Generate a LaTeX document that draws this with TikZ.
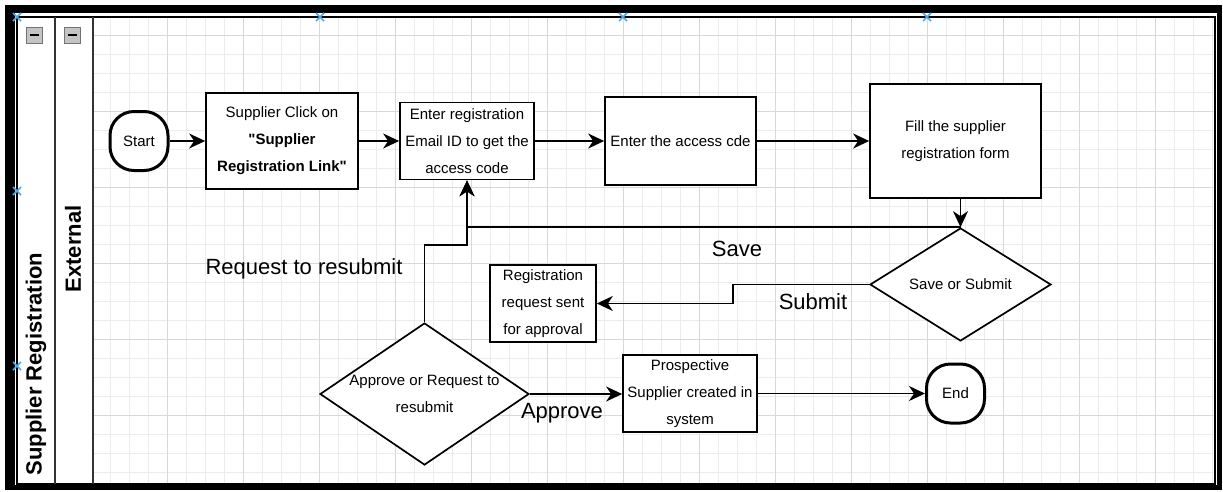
\documentclass[tikz,border=0pt]{standalone}
\usepackage{fontspec}
\setmainfont{Liberation Sans}
\usetikzlibrary{arrows.meta,shapes.geometric}

\definecolor{gridminor}{RGB}{236,236,236}
\definecolor{gridmajor}{RGB}{216,216,216}
\definecolor{handle}{RGB}{70,170,240}
\definecolor{btnfill}{RGB}{196,196,196}

\begin{document}
\begin{tikzpicture}[x=1pt, y=-1pt,
    every node/.style={font=\fontsize{15}{27}\selectfont, align=center},
    box/.style={draw, fill=white, line width=1.7pt, inner sep=0pt},
    term/.style={draw, fill=white, line width=3pt, rounded corners=24pt, minimum width=58pt, minimum height=59pt, inner sep=0pt},
    choice/.style={draw, fill=white, diamond, line width=1.7pt, inner sep=0pt},
    flow/.style={line width=1.7pt, -{Stealth[length=16pt, width=15pt, inset=5pt]}},
    lbl/.style={font=\fontsize{22}{26}\selectfont},
    lanetitle/.style={font=\bfseries\fontsize{22}{26}\selectfont, rotate=90},
    btn/.style={draw=black!55, fill=btnfill, minimum size=16pt, inner sep=0pt, line width=0.8pt}]
    \useasboundingbox (0,0) rectangle (1223,491);

    % grid
    \foreach \gx in {110,129,...,1212} \draw[gridminor, line width=0.8pt] (\gx,17) -- (\gx,484);
    \foreach \gy in {35,54,...,472} \draw[gridminor, line width=0.8pt] (93,\gy) -- (1215,\gy);
    \foreach \gx in {167,243,...,1155} \draw[gridmajor, line width=0.9pt] (\gx,17) -- (\gx,484);
    \foreach \gy in {35,111,...,415} \draw[gridmajor, line width=0.9pt] (93,\gy) -- (1215,\gy);

    % frame and pool
    \fill (5,5) rectangle (1222,13);
    \fill (5,5) rectangle (15,490);
    \fill (1217,5) rectangle (1222,490);
    \fill (5,485) rectangle (1222,490);
    \draw[line width=1.2pt] (17,17) rectangle (1215,484);
    \draw[black!80, line width=1.6pt] (55,17) -- (55,484);
    \draw[black!80, line width=1.6pt] (93,17) -- (93,484);

    \node[lanetitle] (pool) at (36,364) {Supplier Registration};
    \node[lanetitle] (lane) at (73,249) {External};
    \node[btn] (btnpool) at (34.5,35.3) {};
    \node[btn] (btnlane) at (72.5,35.3) {};
    \draw[line width=2.2pt] ([xshift=3.5pt]btnpool.west) -- ([xshift=-3.5pt]btnpool.east);
    \draw[line width=2.2pt] ([xshift=3.5pt]btnlane.west) -- ([xshift=-3.5pt]btnlane.east);
    \foreach \hx/\hy in {17/17,320/17,623/17,927/17,17/191,17/366}
        \draw[handle, line width=1.6pt] (\hx-4,\hy-4) -- (\hx+4,\hy+4) (\hx-4,\hy+4) -- (\hx+4,\hy-4);

    % steps
    \node[term] (start) at (139,141) {Start};
    \node[box, minimum width=152pt, minimum height=96pt] (click) at (282,141) {Supplier Click on\\ \textbf{\textquotedbl Supplier}\\ \textbf{Registration Link\textquotedbl}};
    \node[box, minimum width=134pt, minimum height=77pt] (email) at (467,141) {Enter registration\\ Email ID to get the\\ access code};
    \node[box, minimum width=151pt, minimum height=88pt] (code) at (680.5,141) {Enter the access cde};
    \node[box, minimum width=171pt, minimum height=114pt] (form) at (955.5,141) {Fill the supplier\\ registration form};
    \node[choice, aspect=1.6, minimum width=181pt, minimum height=113pt] (savesub) at (960.5,284.5) {Save or Submit};
    \node[box, minimum width=106pt, minimum height=77pt] (sent) at (543,303.5) {Registration\\ request sent\\ for approval};
    \node[choice, aspect=1.47, minimum width=209pt, minimum height=142pt] (review) at (424.5,394) {Approve or Request to\\ resubmit};
    \node[box, minimum width=134pt, minimum height=77pt] (created) at (690,393.5) {Prospective\\ Supplier created in\\ system};
    \node[term] (finish) at (955.5,393.5) {End};

    % labels
    \node[lbl] (savelbl) at (737,249) {Save};
    \node[lbl] (submitlbl) at (813,302) {Submit};
    \node[lbl] (resubmitlbl) at (304,269) {Request to resubmit};
    \node[lbl] (approvelbl) at (562,413) {Approve};

    % connectors
    \draw[flow] (start) -- (click);
    \draw[flow] (click) -- (email);
    \draw[flow] (email) -- (code);
    \draw[flow] (code) -- (form);
    \draw[flow] (form.south -| savesub.north) -- (savesub.north);
    \draw[flow] (savesub.north) -| (email.south);
    \draw[flow] (review.north) -- ++(0,-77) -| (email.south);
    \draw[flow] (savesub.west) -- ++(-136,0) |- (sent.east);
    \draw[flow] (review.east) -- (review.east -| created.west);
    \draw[flow] (created) -- (finish);
\end{tikzpicture}
\end{document}
